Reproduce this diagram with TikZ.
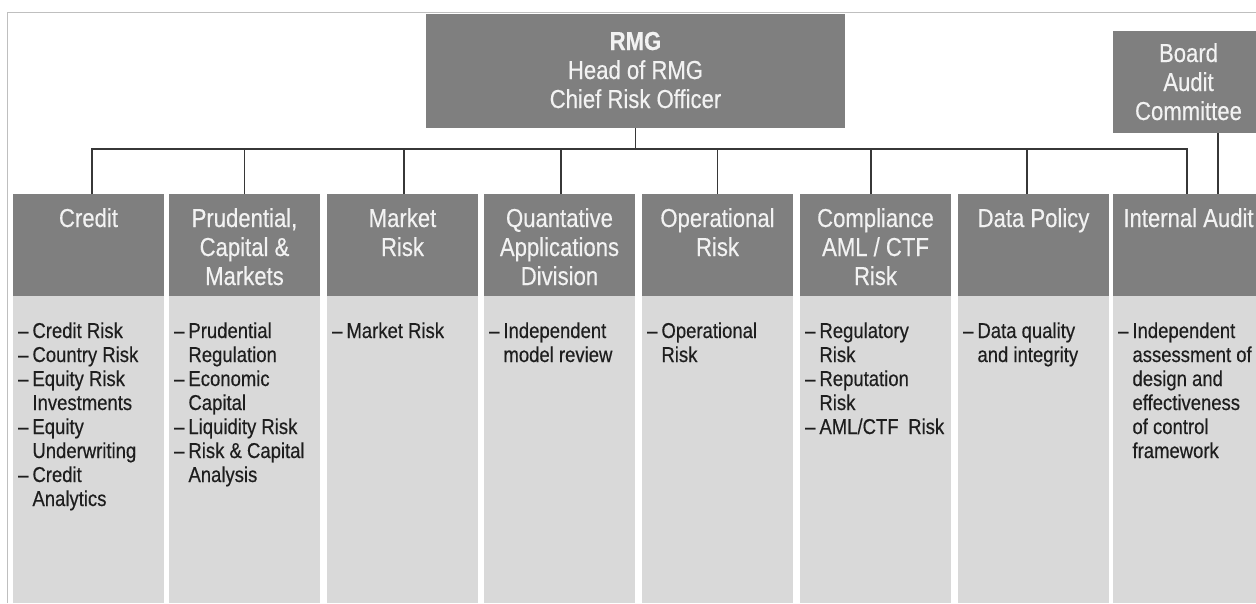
\documentclass[tikz,border=0pt]{standalone}
\usepackage{fontspec}
\setmainfont{Liberation Sans}
\newfontfamily\hfont[FakeStretch=0.85,FakeBold=0.4]{Liberation Sans}
\newfontfamily\bfont[FakeStretch=0.86,FakeBold=0.4]{Liberation Sans}
\definecolor{hdr}{RGB}{127,127,127}
\definecolor{bdy}{RGB}{217,217,217}
\definecolor{frm}{RGB}{191,191,191}
\definecolor{lnk}{RGB}{55,55,55}
\definecolor{htxt}{RGB}{242,242,242}
\definecolor{btxt}{RGB}{30,30,30}
\newcommand\hl[1]{\begin{tabular}[t]{@{}c@{}}#1\end{tabular}}
\newcommand\bl[1]{\begin{tabular}[t]{@{}l@{\hspace{4pt}}l@{}}#1\end{tabular}}
\newcommand\dd{\textendash}
\tikzset{
  hdrbox/.style={fill=hdr, draw=none, minimum width=151pt, minimum height=102pt, anchor=north west, inner sep=0pt, outer sep=0pt},
  bodybox/.style={fill=bdy, draw=none, minimum width=151pt, minimum height=307pt, anchor=north west, inner sep=0pt, outer sep=0pt},
  htext/.style={anchor=base, inner sep=0pt, text=htxt, font=\hfont\fontsize{26}{29}\selectfont},
  btext/.style={anchor=base west, inner sep=0pt, text=btxt, font=\bfont\fontsize{21.5}{24}\selectfont},
  link/.style={draw=lnk, line width=1.3pt}
}
\begin{document}
\begin{tikzpicture}[x=1pt,y=1pt]
\useasboundingbox (0,0) rectangle (1256,-603);
\fill[white] (0,0) rectangle (1256,-603);
\draw[frm, line width=1pt] (7,-603) -- (7,-12) -- (1256,-12);

% top boxes
\node[hdrbox, minimum width=419pt, minimum height=114pt] (rmg) at (426,-14) {};
\node[htext] (rmgt) at ([yshift=-36pt]rmg.north) {\hl{\bfseries RMG\\Head of RMG\\Chief Risk Officer}};
\node[hdrbox] (board) at (1113,-31) {};
\node[htext] (boardt) at ([yshift=-31pt]board.north) {\hl{Board\\Audit\\Committee}};

% column headers
\node[hdrbox] (credit) at (13,-194) {};
\node[hdrbox] (prud) at (169,-194) {};
\node[hdrbox] (market) at (327,-194) {};
\node[hdrbox] (quant) at (484,-194) {};
\node[hdrbox] (oper) at (642,-194) {};
\node[hdrbox] (compl) at (800,-194) {};
\node[hdrbox] (data) at (958,-194) {};
\node[hdrbox] (audit) at (1113,-194) {};

\node[htext] (creditt) at ([yshift=-33pt]credit.north) {\hl{Credit}};
\node[htext] (prudt) at ([yshift=-33pt]prud.north) {\hl{Prudential,\\Capital \&\\Markets}};
\node[htext] (markett) at ([yshift=-33pt]market.north) {\hl{Market\\Risk}};
\node[htext] (quantt) at ([yshift=-33pt]quant.north) {\hl{Quantative\\Applications\\Division}};
\node[htext] (opert) at ([yshift=-33pt]oper.north) {\hl{Operational\\Risk}};
\node[htext] (complt) at ([yshift=-33pt]compl.north) {\hl{Compliance\\AML / CTF\\Risk}};
\node[htext] (datat) at ([yshift=-33pt]data.north) {\hl{Data Policy}};
\node[htext] (auditt) at ([yshift=-33pt]audit.north) {\hl{Internal Audit}};

% column bodies
\node[bodybox] (creditb) at (credit.south west) {};
\node[bodybox] (prudb) at (prud.south west) {};
\node[bodybox] (marketb) at (market.south west) {};
\node[bodybox] (quantb) at (quant.south west) {};
\node[bodybox] (operb) at (oper.south west) {};
\node[bodybox] (complb) at (compl.south west) {};
\node[bodybox] (datab) at (data.south west) {};
\node[bodybox] (auditb) at (audit.south west) {};

\node[btext] (creditl) at ([shift={(5pt,-42pt)}]creditb.north west) {\bl{\dd&Credit Risk\\ \dd&Country Risk\\ \dd&Equity Risk\\ &Investments\\ \dd&Equity\\ &Underwriting\\ \dd&Credit\\ &Analytics}};
\node[btext] (prudl) at ([shift={(5pt,-42pt)}]prudb.north west) {\bl{\dd&Prudential\\ &Regulation\\ \dd&Economic\\ &Capital\\ \dd&Liquidity Risk\\ \dd&Risk \& Capital\\ &Analysis}};
\node[btext] (marketl) at ([shift={(5pt,-42pt)}]marketb.north west) {\bl{\dd&Market Risk}};
\node[btext] (quantl) at ([shift={(5pt,-42pt)}]quantb.north west) {\bl{\dd&Independent\\ &model review}};
\node[btext] (operl) at ([shift={(5pt,-42pt)}]operb.north west) {\bl{\dd&Operational\\ &Risk}};
\node[btext] (compll) at ([shift={(5pt,-42pt)}]complb.north west) {\bl{\dd&Regulatory\\ &Risk\\ \dd&Reputation\\ &Risk\\ \dd&AML/CTF\hspace{0.45em}Risk}};
\node[btext] (datal) at ([shift={(5pt,-42pt)}]datab.north west) {\bl{\dd&Data quality\\ &and integrity}};
\node[btext] (auditl) at ([shift={(5pt,-42pt)}]auditb.north west) {\bl{\dd&Independent\\ &assessment of\\ &design and\\ &effectiveness\\ &of control\\ &framework}};

% connectors
\coordinate (bus) at (0,-149);
\draw[link] (rmg.south) -- (rmg.south |- bus);
\draw[link] ([xshift=3.5pt]credit.north) |- ([xshift=-1.5pt]audit.north |- bus) -- ([xshift=-1.5pt]audit.north);
\draw[link] (prud.north) -- (prud.north |- bus);
\draw[link] ([xshift=1.5pt]market.north) -- ([xshift=1.5pt]market.north |- bus);
\draw[link] ([xshift=1.5pt]quant.north) -- ([xshift=1.5pt]quant.north |- bus);
\draw[link] (oper.north) -- (oper.north |- bus);
\draw[link] ([xshift=-4.5pt]compl.north) -- ([xshift=-4.5pt]compl.north |- bus);
\draw[link] ([xshift=-6.5pt]data.north) -- ([xshift=-6.5pt]data.north |- bus);
\draw[link] ([xshift=29.5pt]board.south) -- ([xshift=29.5pt]audit.north);
\end{tikzpicture}
\end{document}
